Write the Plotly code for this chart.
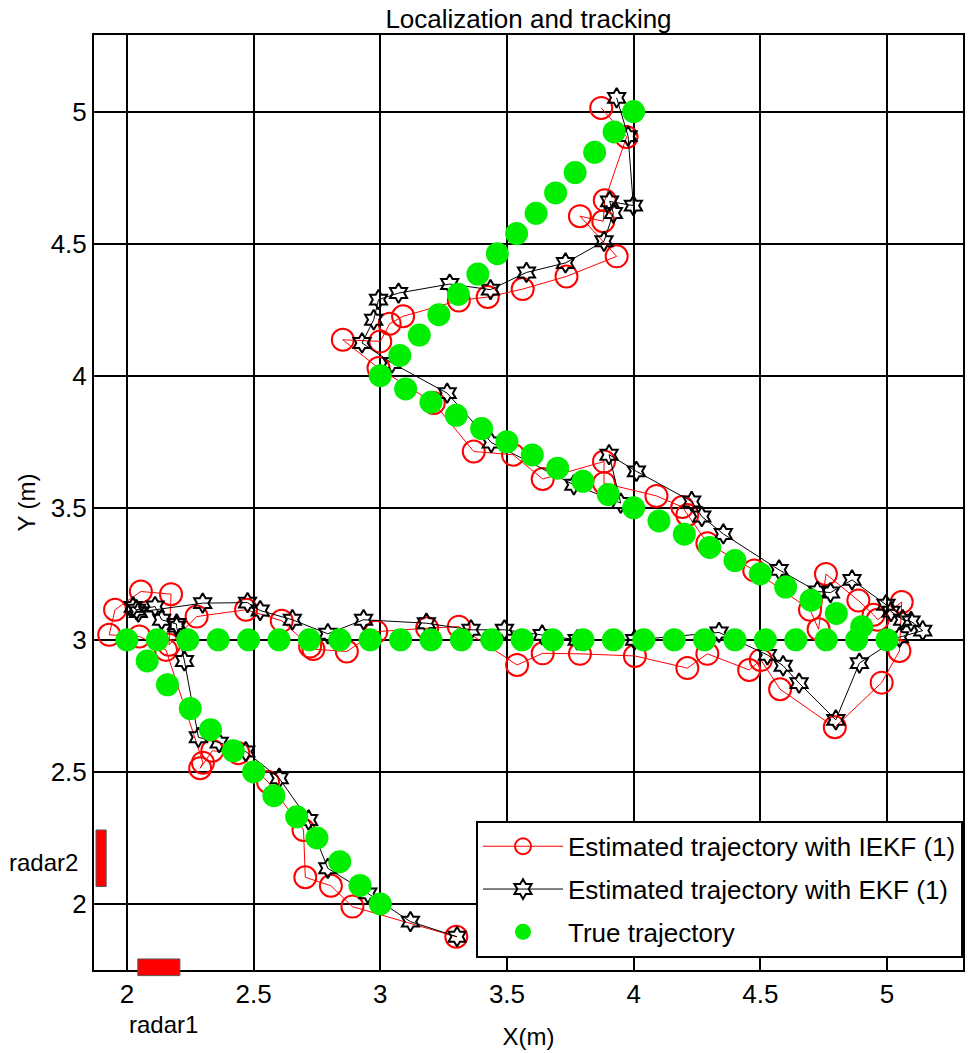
import plotly.graph_objects as go

# True trajectory
true_x = [3.0, 2.92, 2.84, 2.75, 2.67, 2.58, 2.50, 2.42, 2.33, 2.25, 2.16, 2.08, 2.0,
          2.12, 2.24, 2.36, 2.48, 2.60, 2.72, 2.84, 2.96, 3.08, 3.20, 3.32, 3.44, 3.56,
          3.68, 3.80, 3.92, 4.04, 4.16, 4.28, 4.40, 4.52, 4.64, 4.76, 4.88, 5.0,
          4.90, 4.80, 4.70, 4.60, 4.50, 4.40, 4.30, 4.20, 4.10, 4.00, 3.90, 3.80, 3.70,
          3.60, 3.50, 3.40, 3.30, 3.20, 3.10, 3.0,
          3.077, 3.154, 3.231, 3.308, 3.385, 3.462, 3.538, 3.615, 3.692, 3.769, 3.846, 3.923, 4.0]
true_y = [2.0, 2.07, 2.16, 2.25, 2.33, 2.41, 2.50, 2.58, 2.66, 2.74, 2.83, 2.92, 3.0,
          3.0, 3.0, 3.0, 3.0, 3.0, 3.0, 3.0, 3.0, 3.0, 3.0, 3.0, 3.0, 3.0,
          3.0, 3.0, 3.0, 3.0, 3.0, 3.0, 3.0, 3.0, 3.0, 3.0, 3.0, 3.0,
          3.05, 3.10, 3.15, 3.20, 3.25, 3.30, 3.35, 3.40, 3.45, 3.50, 3.55, 3.60, 3.65,
          3.70, 3.75, 3.80, 3.85, 3.90, 3.95, 4.0,
          4.077, 4.154, 4.231, 4.308, 4.385, 4.462, 4.538, 4.615, 4.692, 4.769, 4.846, 4.923, 5.0]

# IEKF estimate
iekf_x = [3.30, 2.89, 2.805, 2.704, 2.697, 2.557, 2.44, 2.337, 2.289, 2.30, 2.154, 2.049,
          1.93, 1.953, 2.055, 2.174, 2.166, 2.275, 2.47, 2.611, 2.723, 2.736, 2.868, 2.984,
          3.185, 3.31, 3.54, 3.641, 3.788, 4.005, 4.212, 4.291, 4.456, 4.502, 4.578, 4.794,
          4.979, 5.049, 5.058, 4.963, 4.947, 4.887, 4.759, 4.73, 4.696, 4.476, 4.291, 4.212,
          4.192, 4.09, 3.883, 3.883, 3.641, 3.524, 3.369, 3.211, 2.993, 2.852, 3.0, 3.037,
          3.09, 3.31, 3.424, 3.562, 3.735, 3.933, 3.788, 3.88, 3.886, 3.972, 3.872]
iekf_y = [1.876, 1.99, 2.069, 2.101, 2.28, 2.462, 2.571, 2.58, 2.514, 2.535, 2.962, 3.013,
          3.019, 3.114, 3.183, 3.173, 2.981, 3.088, 3.114, 3.072, 2.975, 2.965, 2.956, 3.031,
          3.044, 3.05, 2.905, 2.949, 2.947, 2.939, 2.893, 2.947, 2.886, 2.924, 2.813, 2.669,
          2.838, 2.958, 3.143, 3.076, 3.095, 3.149, 3.249, 3.04, 3.114, 3.263, 3.366, 3.473,
          3.503, 3.545, 3.593, 3.675, 3.609, 3.701, 3.713, 3.897, 4.029, 4.136, 4.13, 4.197,
          4.225, 4.285, 4.298, 4.328, 4.376, 4.452, 4.604, 4.585, 4.664, 4.904, 5.014]

# EKF estimate
ekf_x = [3.303, 3.119, 2.951, 2.793, 2.717, 2.601, 2.469, 2.364, 2.282, 2.227, 2.196, 2.196,
         2.137, 2.111, 2.038, 2.025, 2.045, 2.299, 2.476, 2.526, 2.653, 2.793, 2.934, 3.182,
         3.358, 3.49, 3.639, 3.777, 4.004, 4.337, 4.528, 4.59, 4.653, 4.798, 4.891, 5.049,
         5.141, 5.095, 5.062, 5.016, 4.996, 4.862, 4.777, 4.725, 4.574, 4.354, 4.269, 4.229,
         4.011, 3.903, 3.949, 3.764, 3.438, 3.264, 3.046, 2.928, 2.974, 2.993, 3.072, 3.274,
         3.435, 3.577, 3.731, 3.883, 3.92, 3.905, 3.999, 3.978, 3.933]
ekf_y = [1.876, 1.933, 2.04, 2.135, 2.318, 2.476, 2.577, 2.611, 2.631, 2.92, 3.05, 3.06,
         3.076, 3.126, 3.114, 3.125, 3.105, 3.139, 3.141, 3.111, 3.076, 3.023, 3.076, 3.063,
         3.038, 3.038, 3.019, 3.0, 3.0, 3.028, 2.943, 2.902, 2.836, 2.697, 2.912, 3.01,
         3.035, 3.07, 3.076, 3.107, 3.133, 3.227, 3.179, 3.183, 3.265, 3.401, 3.467, 3.524,
         3.638, 3.701, 3.518, 3.587, 3.747, 3.934, 4.048, 4.124, 4.212, 4.288, 4.313, 4.347,
         4.326, 4.391, 4.427, 4.509, 4.616, 4.66, 4.644, 4.907, 5.052]

tick_vals_x = [2, 2.5, 3, 3.5, 4, 4.5, 5]
tick_text_x = ["2", "2.5", "3", "3.5", "4", "4.5", "5"]
tick_vals_y = [2, 2.5, 3, 3.5, 4, 4.5, 5]
tick_text_y = ["2", "2.5", "3", "3.5", "4", "4.5", "5"]

FONT = "Liberation Sans, Arial, sans-serif"

fig = go.Figure()
fig.add_trace(go.Scatter(
    x=iekf_x, y=iekf_y, mode="lines+markers",
    name="Estimated trajectory with IEKF (1)", legendgroup="a",
    line=dict(color="red", width=1),
    marker=dict(symbol="circle-open", size=22, color="red", line=dict(width=2, color="red")),
))
fig.add_trace(go.Scatter(
    x=ekf_x, y=ekf_y, mode="lines+markers",
    name="Estimated trajectory with EKF (1)", legendgroup="b",
    line=dict(color="black", width=1),
    marker=dict(symbol="hexagram-open", size=15, color="black", line=dict(width=2, color="black")),
))
fig.add_trace(go.Scatter(
    x=true_x, y=true_y, mode="markers",
    name="True trajectory", legendgroup="c",
    marker=dict(symbol="circle", size=23, color="#00ee00", line=dict(width=0)),
))

# radar rectangles
fig.add_shape(type="rect", xref="x", yref="y", x0=1.878, x1=1.918, y0=2.066, y1=2.28,
              fillcolor="red", line=dict(color="#555555", width=1))
fig.add_shape(type="rect", xref="x", yref="paper", x0=2.043, x1=2.209, y0=-0.006, y1=0.0118,
              fillcolor="red", line=dict(color="#555555", width=1))

fig.add_annotation(text="radar2", xref="paper", yref="paper", x=-0.1, y=0.1155,
                   xanchor="left", yanchor="middle", showarrow=False,
                   font=dict(family=FONT, size=24, color="black"))
fig.add_annotation(text="radar1", xref="x", yref="paper", x=2.144, y=-0.058,
                   xanchor="center", yanchor="middle", showarrow=False,
                   font=dict(family=FONT, size=24, color="black"))

fig.update_layout(
    width=968, height=1053,
    margin=dict(l=94, r=3, t=35, b=83),
    paper_bgcolor="white", plot_bgcolor="white",
    font=dict(family=FONT, size=24, color="black"),
    title=dict(text="Localization and tracking", xref="paper", x=0.5, xanchor="center",
               y=0.982, yanchor="middle", font=dict(family=FONT, size=26)),
    legend=dict(x=1.0, y=0.013, xanchor="right", yanchor="bottom",
                bgcolor="white", bordercolor="black", borderwidth=2,
                font=dict(family=FONT, size=26), itemwidth=80,
                traceorder="grouped", tracegroupgap=6),
    showlegend=True,
)
fig.update_xaxes(range=[1.87, 5.30], tickvals=tick_vals_x, ticktext=tick_text_x,
                 showgrid=True, gridcolor="black", gridwidth=2, zeroline=False,
                 showline=True, linecolor="black", linewidth=2, mirror=True, ticks="",
                 title=dict(text="X(m)", standoff=20, font=dict(size=24)),
                 tickfont=dict(size=26))
fig.update_yaxes(range=[1.75, 5.29], tickvals=tick_vals_y, ticktext=tick_text_y,
                 showgrid=True, gridcolor="black", gridwidth=2, zeroline=False,
                 showline=True, linecolor="black", linewidth=2, mirror=True, ticks="",
                 title=dict(text="Y (m)", standoff=8, font=dict(size=24)),
                 tickfont=dict(size=26))

fig.write_html("out.html")
